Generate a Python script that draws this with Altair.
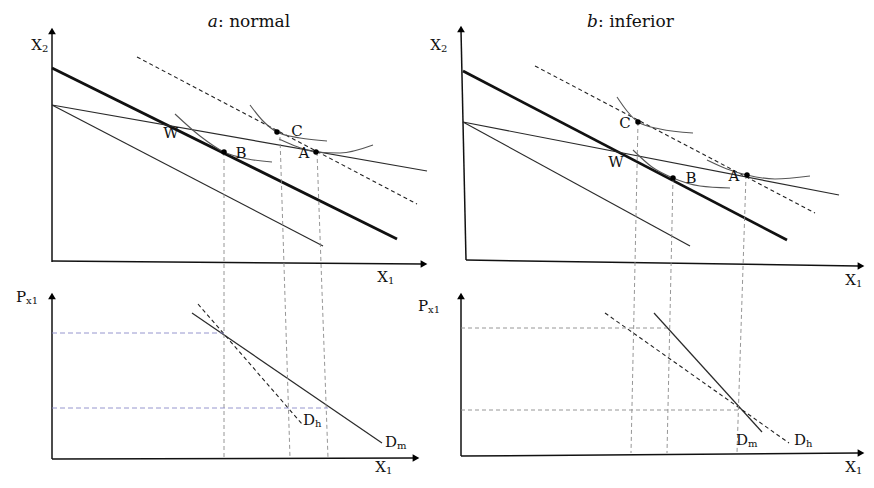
import altair as alt
import pandas as pd

# ---------------- data (pixel-space drawing coordinates) ----------------
# Panel a (normal good), top: budget lines, indifference curves
a_yaxis = [(52, 262), (52, 33)]
a_xaxis = [(52, 261), (422, 264)]
a_thick = [(52, 68), (397, 239)]
a_lower = [(52, 105), (323, 246)]
a_flat = [(52, 105), (427, 171)]
a_dash = [(137, 57), (417, 204)]
a_ic_b = [(175, 114), (200, 136), (224, 152), (248, 159), (272, 162)]
a_ic_c = [(250, 105), (263, 121), (277, 132), (300, 138), (327, 141)]
a_ic_a = [(279, 139), (298, 147), (316, 152), (340, 153), (373, 145)]
a_vB = [(224, 152), (224, 458)]
a_vC = [(280, 137), (290, 458)]
a_vA = [(317, 152), (328, 458)]
# Panel a, bottom: demand curves
a2_yaxis = [(52, 459), (52, 298)]
a2_xaxis = [(52, 459), (413, 458)]
a2_dm = [(192, 313), (382, 443)]
a2_dh = [(198, 304), (302, 424)]
a2_h1 = [(52, 333), (224, 333)]
a2_h2 = [(52, 408), (328, 408)]

# Panel b (inferior good), top
b_yaxis = [(466, 260), (461, 30)]
b_xaxis = [(466, 260), (858, 266)]
b_thick = [(463, 71), (787, 240)]
b_lower = [(463, 122), (690, 246)]
b_flat = [(463, 122), (839, 195)]
b_dash = [(535, 66), (815, 213)]
b_ic_c = [(617, 97), (627, 111), (638, 122), (660, 129), (693, 133)]
b_ic_b = [(633, 150), (652, 167), (673, 178), (700, 186), (730, 188)]
b_ic_a = [(707, 160), (727, 169), (747, 175), (775, 179), (810, 176)]
b_vC = [(638, 122), (631, 453)]
b_vB = [(673, 178), (667, 453)]
b_vA = [(746, 175), (737, 453)]
# Panel b, bottom
b2_yaxis = [(461, 456), (461, 298)]
b2_xaxis = [(461, 456), (858, 453)]
b2_dm = [(654, 313), (762, 432)]
b2_dh = [(605, 313), (789, 443)]
b2_h1 = [(461, 328), (667, 328)]
b2_h2 = [(461, 410), (740, 410)]

# equilibrium points
dot_x = [316, 224, 277, 747, 673, 638]
dot_y = [152, 152, 132, 175, 178, 122]

# arrow heads
arrow_up_x = [52, 52, 461, 461]
arrow_up_y = [31, 296, 29, 296]
arrow_right_x = [424, 416, 861, 861]
arrow_right_y = [264, 458, 266, 453]

# point / curve labels
lab_text = ["A", "B", "C", "W", "A", "B", "C", "W"]
lab_x = [304, 241, 297, 171, 734, 691, 625, 616]
lab_y = [153, 153, 131, 133, 176, 178, 123, 162]

# axis labels: main letter (right-aligned at x) + subscript (left-aligned at x)
ax_main = ["X", "X", "X", "P", "X", "X", "X", "P", "D", "D", "D", "D"]
ax_sub = ["2", "1", "1", "x1", "2", "1", "1", "x1", "h", "m", "m", "h"]
ax_x = [42, 388, 386, 26, 441, 856, 856, 428, 315, 397, 748, 806]
ax_y = [45, 277, 467, 297, 45, 280, 467, 306, 420, 442, 440, 440]

# panel titles
title_italic = ["a", "b"]
title_rest = [": normal", ": inferior"]
title_x = [218, 598]
title_y = [22, 22]

# ---------------- build tables ----------------
line_groups = {
    "axis": [a_yaxis, a_xaxis, a2_yaxis, a2_xaxis, b_yaxis, b_xaxis, b2_yaxis, b2_xaxis],
    "thick": [a_thick, b_thick],
    "thin": [a_lower, a_flat, b_lower, b_flat, a2_dm, b2_dm],
    "dash": [a_dash, b_dash, a2_dh, b2_dh],
    "ic": [a_ic_a, a_ic_b, a_ic_c, b_ic_a, b_ic_b, b_ic_c],
    "vguide": [a_vA, a_vB, a_vC, b_vA, b_vB, b_vC, b2_h1, b2_h2],
    "hguide": [a2_h1, a2_h2],
}
rows = []
gid = 0
for style, segs in line_groups.items():
    for seg in segs:
        for k, (px, py) in enumerate(seg):
            rows.append({"style": style, "id": gid, "ord": k, "x": px, "y": py})
        gid += 1
lines = pd.DataFrame(rows)

W, H = 858, 472
X = alt.X("x:Q", scale=alt.Scale(domain=[8, 8 + W]), axis=None)
Y = alt.Y("y:Q", scale=alt.Scale(domain=[8, 8 + H], reverse=True), axis=None)

FONT = "DejaVu Serif"

styles = {
    "axis": dict(stroke="#111111", strokeWidth=1.5),
    "thick": dict(stroke="#111111", strokeWidth=2.8),
    "thin": dict(stroke="#2a2a2a", strokeWidth=1.2),
    "dash": dict(stroke="#222222", strokeWidth=1.1, strokeDash=[4, 3]),
    "ic": dict(stroke="#555555", strokeWidth=1.1, interpolate="monotone"),
    "vguide": dict(stroke="#8a8a8a", strokeWidth=0.9, strokeDash=[4, 3]),
    "hguide": dict(stroke="#8a8ac8", strokeWidth=0.9, strokeDash=[5, 3]),
}
layers = []
for style, props in styles.items():
    layers.append(
        alt.Chart(lines[lines["style"] == style])
        .mark_line(**props)
        .encode(x=X, y=Y, detail="id:N", order="ord:Q")
    )

dots = pd.DataFrame({"x": dot_x, "y": dot_y})
layers.append(alt.Chart(dots).mark_circle(size=30, color="#000000", opacity=1).encode(x=X, y=Y))

up = pd.DataFrame({"x": arrow_up_x, "y": arrow_up_y})
layers.append(alt.Chart(up).mark_point(shape="triangle-up", filled=True, size=60, color="#000000", opacity=1).encode(x=X, y=Y))
right = pd.DataFrame({"x": arrow_right_x, "y": arrow_right_y})
layers.append(alt.Chart(right).mark_point(shape="triangle-right", filled=True, size=60, color="#000000", opacity=1).encode(x=X, y=Y))

labs = pd.DataFrame({"t": lab_text, "x": lab_x, "y": lab_y})
layers.append(
    alt.Chart(labs).mark_text(font=FONT, fontSize=15, color="#111111", baseline="middle")
    .encode(x=X, y=Y, text="t:N")
)

axl = pd.DataFrame({"m": ax_main, "s": ax_sub, "x": ax_x, "y": ax_y})
layers.append(
    alt.Chart(axl).mark_text(font=FONT, fontSize=15, color="#111111", baseline="middle", align="right")
    .encode(x=X, y=Y, text="m:N")
)
layers.append(
    alt.Chart(axl).mark_text(font=FONT, fontSize=10, color="#111111", baseline="middle", align="left", dy=4)
    .encode(x=X, y=Y, text="s:N")
)

tt = pd.DataFrame({"i": title_italic, "r": title_rest, "x": title_x, "y": title_y})
layers.append(
    alt.Chart(tt).mark_text(font=FONT, fontSize=17, fontStyle="italic", color="#111111", align="right", baseline="middle")
    .encode(x=X, y=Y, text="i:N")
)
layers.append(
    alt.Chart(tt).mark_text(font=FONT, fontSize=17, color="#111111", align="left", baseline="middle")
    .encode(x=X, y=Y, text="r:N")
)

chart = (
    alt.layer(*layers)
    .properties(width=W, height=H, autosize=alt.AutoSizeParams(type="none"), padding=0, background="white")
    .configure_view(stroke=None)
)

chart.save("out.html", embed_options={"renderer": "svg", "actions": False})
